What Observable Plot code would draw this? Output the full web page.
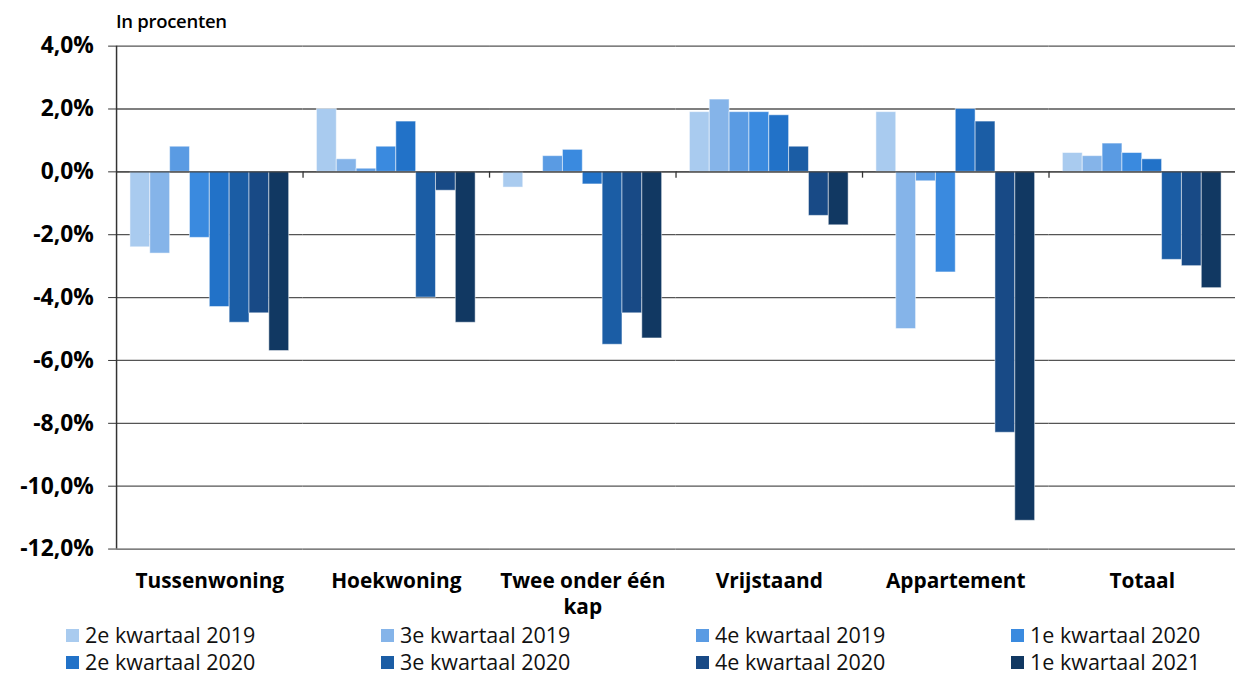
<!DOCTYPE html>
<html>
<head>
<meta charset="utf-8">
<script src="https://cdn.jsdelivr.net/npm/d3@7"></script>
<script src="https://cdn.jsdelivr.net/npm/@observablehq/plot@0.6"></script>
<style>
  html, body { margin: 0; padding: 0; background: #fff; overflow: hidden; }
  body { font-family: "Open Sans", Lato, sans-serif; width: 1235px; height: 675px; position: relative; }
  #title { position: absolute; left: 116px; top: 8px; font-size: 18.5px; font-weight: 600; color: #000; letter-spacing: -0.3px; }
  #chart { position: absolute; left: 0; top: 0; }
  .lg { position: absolute; display: flex; align-items: center; font-size: 21.5px; line-height: 24px; height: 24px; color: #111; white-space: nowrap; }
  .lg span.sw { display: inline-block; width: 13px; height: 13px; margin-right: 6px; }
</style>
</head>
<body>
<div id="title">In procenten</div>
<div id="chart"></div>
<div id="legend"></div>
<script>
const categories = ["Tussenwoning", "Hoekwoning", "Twee onder één kap", "Vrijstaand", "Appartement", "Totaal"];
const categoryLabels = ["Tussenwoning", "Hoekwoning", "Twee onder één\nkap", "Vrijstaand", "Appartement", "Totaal"];
const series = ["2e kwartaal 2019", "3e kwartaal 2019", "4e kwartaal 2019", "1e kwartaal 2020",
                "2e kwartaal 2020", "3e kwartaal 2020", "4e kwartaal 2020", "1e kwartaal 2021"];
const colors = ["#A9CBEF", "#85B4E9", "#5A9BE3", "#3A8ADF", "#2272C8", "#1B5DA5", "#184A86", "#113862"];
// values per category, in series order
const tussenwoning = [-2.4, -2.6, 0.8, -2.1, -4.3, -4.8, -4.5, -5.7];
const hoekwoning   = [2.0, 0.4, 0.1, 0.8, 1.6, -4.0, -0.6, -4.8];
const tweeOnderEen = [-0.5, 0, 0.5, 0.7, -0.4, -5.5, -4.5, -5.3];
const vrijstaand   = [1.9, 2.3, 1.9, 1.9, 1.8, 0.8, -1.4, -1.7];
const appartement  = [1.9, -5.0, -0.3, -3.2, 2.0, 1.6, -8.3, -11.1];
const totaal       = [0.6, 0.5, 0.9, 0.6, 0.4, -2.8, -3.0, -3.7];
const yTicks = [4, 2, 0, -2, -4, -6, -8, -10, -12];

const valuesByCat = [tussenwoning, hoekwoning, tweeOnderEen, vrijstaand, appartement, totaal];
const data = [];
categories.forEach((c, i) => series.forEach((s, j) => data.push({cat: c, series: s, value: valuesByCat[i][j]})));

const W = 1245, H = 640, ML = 117, MR = 0, MT = 46, MB = 87;
const PO = 0.7;
const facetW = (W - ML - MR) / categories.length;
const bw = facetW / (series.length + 2 * PO);
const edgeDx = -(PO * bw + bw / 2);

const fmt = d => d.toFixed(1).replace(".", ",") + "%";

const chart = Plot.plot({
  width: W, height: H,
  marginLeft: ML, marginRight: MR, marginTop: MT, marginBottom: MB,
  style: {fontFamily: "'Open Sans', Lato, sans-serif", color: "#000", background: "transparent"},
  fx: {domain: categories, padding: 0, axis: null},
  x: {domain: series, paddingInner: 0, paddingOuter: PO, axis: null},
  y: {domain: [-12, 4], axis: null},
  color: {domain: series, range: colors},
  marks: [
    Plot.ruleY(yTicks, {stroke: "#555", strokeWidth: 1.3}),
    Plot.barY(data, {fx: "cat", x: "series", y: "value", fill: "series", stroke: "#fff", strokeOpacity: 0.5, strokeWidth: 1}),
    Plot.ruleY([0], {stroke: "#444", strokeWidth: 1.3}),
    // category boundary ticks under the zero line
    Plot.ruleX(categories.slice(1), {fx: d => d, x: () => series[0], y1: 0, y2: -0.2, dx: edgeDx, stroke: "#333", strokeWidth: 1.3}),
    // y axis line
    Plot.ruleX([categories[0]], {fx: d => d, x: () => series[0], y1: 4, y2: -12, dx: edgeDx, stroke: "#333", strokeWidth: 1.5}),
    Plot.axisY(yTicks, {tickSize: 8, tickPadding: 15, tickFormat: fmt, fontSize: 23, fontWeight: 700, label: null, stroke: "#333"}),
    Plot.text(categories, {fx: d => d, text: (d, i) => categoryLabels[i], frameAnchor: "bottom", dy: 21, lineAnchor: "top", fontSize: 21, fontWeight: 700, lineHeight: 1.25, fill: "#000"})
  ]
});
document.getElementById("chart").appendChild(chart);

const legend = document.getElementById("legend");
series.forEach((s, i) => {
  const col = i % 4, row = Math.floor(i / 4);
  const el = document.createElement("div");
  el.className = "lg";
  el.style.left = (66 + col * 315) + "px";
  el.style.top = (623 + row * 27) + "px";
  el.innerHTML = `<span class="sw" style="background:${colors[i]}"></span>${s}`;
  legend.appendChild(el);
});
</script>
</body>
</html>
